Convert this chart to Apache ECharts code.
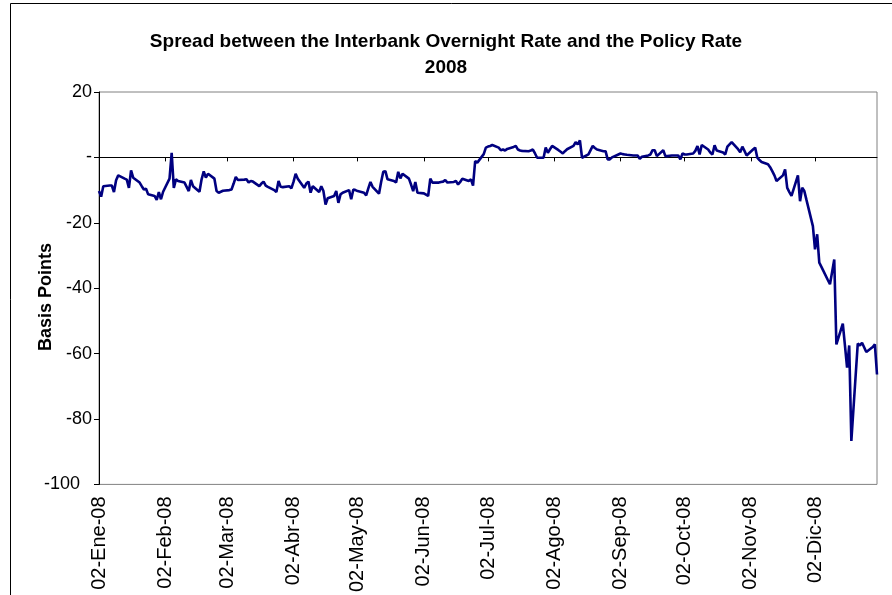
<!DOCTYPE html>
<html>
<head>
<meta charset="utf-8">
<script src="https://cdn.jsdelivr.net/npm/echarts@6/dist/echarts.min.js"></script>
<style>
  html, body { margin: 0; background: #fff; }
  #chart { width: 892px; height: 595px; }
</style>
</head>
<body>
<div id="chart"></div>
<script>
// Spanish month abbreviations used in the tick labels
const monthNames = ['Ene', 'Feb', 'Mar', 'Abr', 'May', 'Jun', 'Jul', 'Ago', 'Sep', 'Oct', 'Nov', 'Dic'];

// spread in basis points, one value per weekday of each month (null = holiday)
const jan = [-10.3, -12.0, -8.8, -8.6, -8.6, -10.6, -7.0, -5.5, -6.5, -6.8, -9.3, -4.0, -6.2, -7.7, -8.8, -9.8, -9.6, -11.3, -11.8, -13.0, -10.6, -12.8];
const feb = [-10.5, -6.5, 1.4, -9.3, -6.7, -7.2, -7.7, -9.0, -10.3, -6.9, -8.8, -10.5, -6.7, -4.3, -6.2, -5.0, -6.5, -10.3, -10.8, -10.5, -10.2];
const mar = [-10.0, -9.8, -8.0, -6.0, -6.9, -6.8, -6.7, -7.7, -7.2, -7.4, -8.8, -8.0, -7.4, -8.6, -9.0, -10.0, -10.6, -7.2, -9.0, -9.1, -8.8];
const apr = [-9.5, -7.5, -5.0, -6.5, -9.3, -8.0, -7.4, -10.8, -8.8, -10.6, -8.8, -10.3, -14.4, -12.5, -11.8, -10.3, -13.9, -11.3, -10.8, -10.0, -12.8, -9.8];
const may = [-10.0, -10.3, -10.8, -11.6, -9.5, -7.5, -9.0, -11.1, -7.5, -4.4, -4.2, -6.7, -7.2, -7.7, -4.4, -6.4, -5.0, -6.5, -8.3, -10.3, -7.5, -10.8];
const jun = [-11.0, -11.4, -11.8, -6.5, -7.7, -7.7, -7.5, -7.4, -6.9, -7.7, -7.5, -7.2, -8.3, -7.5, -6.5, -7.2, -6.7, -8.6, -1.1, -1.6, 1.0];
const jul = [3.0, 3.3, 3.5, 3.8, 3.0, 2.2, 2.4, 2.1, 2.6, 3.2, 3.5, 2.4, 2.1, 2.0, 1.9, 2.1, 2.4, 1.2, -0.1, -0.1, 3.0, 1.4, 2.5];
const aug = [3.5, 2.2, 1.7, 1.2, 1.9, 2.5, 3.5, 4.7, 4.0, 5.2, -0.1, 0.9, 2.2, 3.5, 2.9, 2.4, 1.9, 1.9, -0.6, -0.6, 0.0];
const sep = [0.9, 1.2, 1.0, 0.9, 0.8, 0.6, 0.6, 0.6, -0.4, 0.2, 0.6, 0.9, 2.2, 2.2, 0.4, 2.2, 0.4, 0.4, 0.5, 0.6, 0.6, -0.6];
const oct = [1.2, 0.9, 0.9, 1.2, 2.0, 3.5, 0.9, 3.8, 2.4, 1.5, 0.9, 3.7, 2.1, 1.5, 0.9, 3.3, 4.0, 4.7, 2.5, 1.6, 3.3, 2.0, 0.6];
const nov = [2.4, 3.0, -0.1, -0.8, -1.4, -2.1, -3.0, -4.2, -5.5, -7.2, -5.5, -3.7, -9.3, -10.6, -11.8, -5.5, -13.4, -9.3, -10.3, -13.0];
const dec = [-21.0, -28.1, -23.5, -32.2, -33.5, -37.5, -38.8, -35.0, -31.2, -57.2, -50.8, -57.5, -64.3, -57.5, -86.7, -56.9, -57.5, -56.7, null, -59.5, -58.0, -57.2, -66.4];
const monthly = [jan, feb, mar, apr, may, jun, jul, aug, sep, oct, nov, dec];

// calendar days 02-Ene-08 .. 31-Dic-08 (Excel date axis), weekends left empty
const days = [];
const spread = [];
const used = monthly.map(() => 0);
for (let t = Date.UTC(2008, 0, 2); t <= Date.UTC(2008, 11, 31); t += 86400000) {
  const d = new Date(t);
  const m = d.getUTCMonth();
  const dd = String(d.getUTCDate()).padStart(2, '0');
  days.push(`${dd}-${monthNames[m]}-08`);
  const wd = d.getUTCDay();
  if (wd === 0 || wd === 6) { spread.push(null); continue; }
  const v = monthly[m][used[m]++];
  spread.push(v === undefined ? null : v);
}

const isTick = (i, v) => v.startsWith('02-');
const font = 'Liberation Sans, Arial, sans-serif';

const chart = echarts.init(document.getElementById('chart'));
chart.setOption({
  animation: false,
  textStyle: { fontFamily: font },
  title: {
    text: 'Spread between the Interbank Overnight Rate and the Policy Rate\n2008',
    left: 'center',
    top: 24,
    textStyle: { fontSize: 19, fontWeight: 'bold', color: '#000', lineHeight: 26, fontFamily: font }
  },
  graphic: [
    {
      type: 'rect',
      shape: { x: 10.5, y: 3.5, width: 900, height: 600 },
      style: { fill: 'none', stroke: '#000', lineWidth: 1 },
      silent: true
    },
    {
      type: 'text',
      x: 46,
      y: 297,
      rotation: Math.PI / 2,
      style: {
        text: 'Basis Points', fontSize: 18, fontWeight: 'bold', fill: '#000', fontFamily: font,
        textAlign: 'center', textVerticalAlign: 'middle'
      },
      silent: true
    }
  ],
  grid: { left: 99, right: 15, top: 92, bottom: 110, show: true, borderColor: '#808080', borderWidth: 1 },
  xAxis: [
    {
      type: 'category',
      data: days,
      boundaryGap: false,
      axisLine: { show: false, onZero: false },
      axisTick: { show: false },
      splitLine: { show: false },
      axisLabel: { interval: isTick, rotate: 90, fontSize: 20, color: '#000', margin: 12, fontFamily: font }
    },
    {
      type: 'category',
      data: days,
      boundaryGap: false,
      position: 'bottom',
      axisLine: { show: true, onZero: true, lineStyle: { color: '#000', width: 1 } },
      axisTick: { show: true, interval: isTick, length: 4, lineStyle: { color: '#000' } },
      axisLabel: { show: false },
      splitLine: { show: false }
    }
  ],
  yAxis: {
    type: 'value',
    min: -100,
    max: 20,
    interval: 20,
    axisLine: { show: true, lineStyle: { color: '#000', width: 1 } },
    axisTick: { show: true, length: 5, lineStyle: { color: '#000' } },
    splitLine: { show: false },
    axisLabel: {
      fontSize: 18, color: '#000', margin: 7, fontFamily: font,
      // Excel pushes the widest label (-100) further left
      formatter: (v) => (v === 0 ? '-' : v === -100 ? '{wide|-100}' : String(v)),
      rich: { wide: { fontSize: 18, fontFamily: font, color: '#000', padding: [0, 12, 0, 0] } }
    }
  },
  series: [{
    type: 'line',
    xAxisIndex: 0,
    data: spread,
    connectNulls: true,
    showSymbol: false,
    symbol: 'none',
    lineStyle: { color: '#000080', width: 2.6 }
  }]
});
window.addEventListener('resize', () => chart.resize());
</script>
</body>
</html>
